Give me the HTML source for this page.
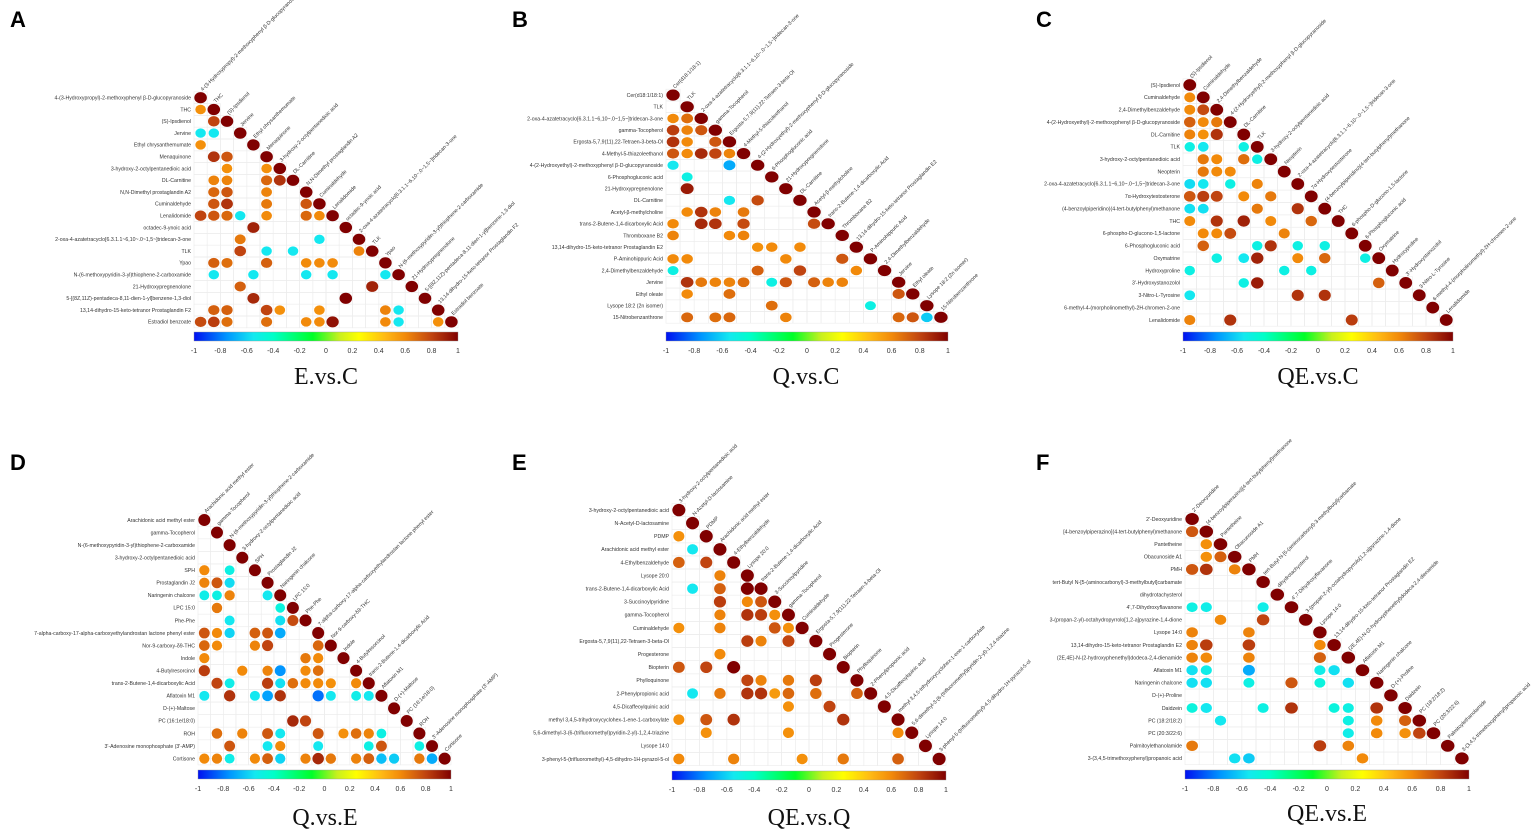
<!DOCTYPE html>
<html><head><meta charset="utf-8">
<style>
html,body{margin:0;padding:0;background:#fff;}
svg{display:block;font-family:"Liberation Sans",sans-serif;}
</style></head>
<body>
<svg id="fig" width="1535" height="831" viewBox="0 0 1535 831" xmlns="http://www.w3.org/2000/svg"></svg>
<script>
// ---------- DATA ----------
const titles = ["E.vs.C","Q.vs.C","QE.vs.C","Q.vs.E","QE.vs.Q","QE.vs.E"];
const panelLetters = ["A","B","C","D","E","F"];
const tickLabels = ["-1","-0.8","-0.6","-0.4","-0.2","0","0.2","0.4","0.6","0.8","1"];

const labelsA = ["4-(3-Hydroxypropyl)-2-methoxyphenyl β-D-glucopyranoside","THC","(S)-Ipsdienol","Jervine","Ethyl chrysanthemumate","Menaquinone","3-hydroxy-2-octylpentanedioic acid","DL-Carnitine","N,N-Dimethyl prostaglandin A2","Cuminaldehyde","Lenalidomide","octadec-9-ynoic acid","2-oxa-4-azatetracyclo[6.3.1.1~6,10~.0~1,5~]tridecan-3-one","TLK","Ypao","N-(6-methoxypyridin-3-yl)thiophene-2-carboxamide","21-Hydroxypregnenolone","5-[(8Z,11Z)-pentadeca-8,11-dien-1-yl]benzene-1,3-diol","13,14-dihydro-15-keto-tetranor Prostaglandin F2","Estradiol benzoate"];
const valuesA = [
[1],
[.58,1],
[0,.8,1],
[-.55,-.55,0,1],
[.58,0,0,0,1],
[0,.85,.75,0,0,1],
[0,0,.58,0,0,.58,1],
[0,.62,.62,0,0,.7,.85,1],
[0,.7,.75,0,0,.62,0,0,1],
[0,.75,.85,0,0,.65,0,0,.75,1],
[.8,.75,.7,-.55,0,.6,0,0,.7,.6,1],
[0,0,0,0,.9,0,0,0,0,0,0,1],
[0,0,0,.65,0,0,0,0,0,-.55,0,0,1],
[0,0,0,.8,0,-.55,0,-.55,0,0,0,0,.62,1],
[0,.72,.68,0,0,.72,0,0,.6,.6,.6,0,0,0,1],
[0,-.55,0,0,-.55,0,0,0,-.55,0,-.55,0,0,0,-.55,1],
[0,0,0,.72,0,0,0,0,0,0,0,0,0,.9,0,0,1],
[0,0,0,0,.88,0,0,0,0,0,0,1,0,0,0,0,0,1],
[0,.72,.72,0,0,.8,.58,0,0,.58,0,0,0,0,.62,-.55,0,0,1],
[.78,.82,.68,0,0,.68,0,0,.6,.6,.95,0,0,0,.6,-.55,0,0,.58,1]
];

const labelsB = ["Cer(d18:1/18:1)","TLK","2-oxa-4-azatetracyclo[6.3.1.1~6,10~.0~1,5~]tridecan-3-one","gamma-Tocopherol","Ergosta-5,7,9(11),22-Tetraen-3-beta-Ol","4-Methyl-5-thiazoleethanol","4-(2-Hydroxyethyl)-2-methoxyphenyl β-D-glucopyranoside","6-Phosphogluconic acid","21-Hydroxypregnenolone","DL-Carnitine","Acetyl-β-methylcholine","trans-2-Butene-1,4-dicarboxylic Acid","Thromboxane B2","13,14-dihydro-15-keto-tetranor Prostaglandin E2","P-Aminohippuric Acid","2,4-Dimethylbenzaldehyde","Jervine","Ethyl oleate","Lysope 18:2 (2n isomer)","15-Nitrobenzanthrone"];
const valuesB = [
[1],
[0,1],
[.6,.68,1],
[.82,.62,.75,1],
[.85,.6,0,.75,1],
[.75,.6,.88,.8,.62,1],
[-.55,0,0,0,-.7,0,1],
[0,-.5,0,0,0,0,0,1],
[0,.92,0,0,0,0,0,0,1],
[0,0,0,0,-.55,0,.78,0,0,1],
[0,.6,.85,.62,0,.65,0,0,0,0,1],
[.6,0,.88,.85,0,.78,0,0,0,0,.78,1],
[.62,0,0,0,.6,.62,0,0,0,0,0,0,1],
[0,0,0,0,0,0,.58,.6,0,.6,0,0,0,1],
[.6,.6,0,0,0,0,0,0,.6,0,0,0,.75,0,1],
[-.5,0,0,0,0,0,.72,0,0,.8,0,0,0,.6,0,1],
[0,.85,.65,.62,.62,.68,0,-.5,.75,0,.72,.62,.62,0,0,0,1],
[0,.6,0,0,.68,0,0,0,0,0,0,0,0,0,0,0,.75,1],
[0,0,0,0,0,0,0,.68,0,0,0,0,0,0,-.5,0,0,0,1],
[0,.7,0,.68,.7,0,0,0,.62,0,0,0,0,0,0,0,.7,.75,-.62,1]
];

const labelsC = ["(S)-Ipsdienol","Cuminaldehyde","2,4-Dimethylbenzaldehyde","4-(2-Hydroxyethyl)-2-methoxyphenyl β-D-glucopyranoside","DL-Carnitine","TLK","3-hydroxy-2-octylpentanedioic acid","Neopterin","2-oxa-4-azatetracyclo[6.3.1.1~6,10~.0~1,5~]tridecan-3-one","7α-Hydroxytestosterone","(4-benzoylpiperidino)(4-tert-butylphenyl)methanone","THC","6-phospho-D-glucono-1,5-lactone","6-Phosphogluconic acid","Oxymatrine","Hydroxyproline","3'-Hydroxystanozolol","3-Nitro-L-Tyrosine","6-methyl-4-(morpholinomethyl)-2H-chromen-2-one","Lenalidomide"];
const valuesC = [
[1],
[.6,1],
[.6,.78,1],
[.72,.6,.65,1],
[.62,.58,.85,0,1],
[-.5,-.55,0,0,-.5,1],
[0,.65,.6,0,.68,-.5,1],
[0,.65,.6,.6,0,0,0,1],
[-.58,-.55,0,-.5,0,.62,0,0,1],
[.75,.82,.8,0,.6,0,.65,0,0,1],
[-.57,-.57,0,0,0,.65,0,0,.85,0,1],
[.6,0,.85,0,.9,0,.6,0,0,.7,0,1],
[0,.6,.6,.78,0,0,0,.62,0,0,0,0,1],
[0,.72,0,0,0,-.5,.85,0,-.5,0,-.5,0,0,1],
[0,0,-.5,0,-.55,.9,0,0,.6,0,.7,0,0,-.5,1],
[-.5,0,0,0,0,0,0,-.5,0,-.5,0,0,0,0,0,1],
[0,0,0,0,-.5,.92,0,0,0,0,0,0,0,0,.72,0,1],
[-.55,0,0,0,0,0,0,0,.85,0,.85,0,0,0,0,0,0,1],
[0,0,0,0,0,0,0,0,0,0,0,0,0,0,0,0,0,0,1],
[.62,0,0,.85,0,0,0,0,0,0,0,0,.82,0,0,0,0,0,0,1]
];

const labelsD = ["Arachidonic acid methyl ester","gamma-Tocopherol","N-(6-methoxypyridin-3-yl)thiophene-2-carboxamide","3-hydroxy-2-octylpentanedioic acid","SPH","Prostaglandin J2","Naringenin chalcone","LPC 15:0","Phe-Phe","7-alpha-carboxy-17-alpha-carboxyethylandrostan lactone phenyl ester","Nor-9-carboxy-δ9-THC","Indole","4-Butylresorcinol","trans-2-Butene-1,4-dicarboxylic Acid","Aflatoxin M1","D-(+)-Maltose","PC (16:1e/18:0)","ROH","3'-Adenosine monophosphate (3'-AMP)","Cortisone"];
const valuesD = [
[1],
[0,1],
[0,0,1],
[0,0,0,1],
[.6,0,-.5,0,1],
[.62,.75,-.58,0,0,1],
[-.52,-.5,.62,0,0,-.55,1],
[0,.65,0,0,0,0,-.48,1],
[0,0,-.55,0,0,0,-.57,.78,1],
[.75,.6,-.6,0,.72,.75,-.7,0,0,1],
[.7,.6,0,0,.62,.8,0,0,0,.7,1],
[.6,0,0,0,0,0,0,0,.65,.6,0,1],
[.82,0,0,.6,0,.62,-.75,0,.6,.68,0,0,1],
[0,.8,-.52,0,0,.82,-.57,.68,.6,.6,.58,0,.6,1],
[-.55,0,.85,0,-.55,-.72,.85,0,0,-.82,-.55,0,-.52,-.55,1],
[0,0,0,0,0,0,0,0,0,0,0,0,0,0,0,1],
[0,0,0,0,0,0,0,.88,.8,0,0,0,0,0,0,0,1],
[0,.68,0,.62,0,.75,-.55,0,0,.75,0,.58,.68,.62,-.5,0,0,1],
[0,0,.75,0,0,-.55,.6,0,0,-.55,0,0,0,-.5,.75,0,0,-.5,1],
[.6,.62,-.52,0,.6,.72,-.6,0,.62,.88,.65,0,.62,.72,-.65,-.62,0,.65,-.7,1]
];

const labelsE = ["3-hydroxy-2-octylpentanedioic acid","N-Acetyl-D-lactosamine","PDMP","Arachidonic acid methyl ester","4-Ethylbenzaldehyde","Lysope 20:0","trans-2-Butene-1,4-dicarboxylic Acid","3-Succinoylpyridine","gamma-Tocopherol","Cuminaldehyde","Ergosta-5,7,9(11),22-Tetraen-3-beta-Ol","Progesterone","Biopterin","Phylloquinone","2-Phenylpropionic acid","4,5-Dicaffeoylquinic acid","methyl 3,4,5-trihydroxycyclohex-1-ene-1-carboxylate","5,6-dimethyl-3-(6-(trifluoromethyl)pyridin-2-yl)-1,2,4-triazine","Lysope 14:0","3-phenyl-5-(trifluoromethyl)-4,5-dihydro-1H-pyrazol-5-ol"];
const valuesE = [
[1],
[0,1],
[.58,0,1],
[0,-.55,0,1],
[.72,0,.8,0,1],
[0,0,0,.62,0,1],
[0,-.55,0,.72,0,1,1],
[0,0,0,.82,0,.6,.75,1],
[0,0,0,.62,0,.85,.82,.58,1],
[.58,0,0,.62,0,0,0,.75,.58,1],
[0,0,0,0,0,.82,.62,0,.8,0,1],
[0,0,0,.6,0,0,0,0,0,0,0,1],
[.75,0,.8,0,1,0,0,0,0,0,0,0,1],
[0,0,0,0,0,.8,.62,0,.65,0,.82,0,0,1],
[0,-.55,0,.65,0,.85,.85,.55,.7,0,.68,0,0,.72,1],
[0,0,0,0,0,0,0,0,.58,0,0,.8,0,0,0,1],
[.58,0,.75,0,.85,0,0,0,0,0,0,0,.85,0,0,0,1],
[0,0,.58,0,0,0,0,0,.58,0,0,0,0,0,0,0,.6,1],
[0,0,0,0,0,0,0,0,0,0,0,0,0,0,0,0,0,0,1],
[.6,0,0,0,.62,0,0,0,0,.58,0,0,.65,0,0,0,.72,0,0,1]
];

const labelsF = ["2'-Deoxyuridine","[4-benzoylpiperazino](4-tert-butylphenyl)methanone","Pantetheine","Obacunoside A1","PMH","tert-Butyl N-[5-(aminocarbonyl)-3-methylbutyl]carbamate","dihydrotachysterol","4',7-Dihydroxyflavanone","3-(propan-2-yl)-octahydropyrrolo[1,2-a]pyrazine-1,4-dione","Lysope 14:0","13,14-dihydro-15-keto-tetranor Prostaglandin E2","(2E,4E)-N-(2-hydroxyphenethyl)dodeca-2,4-dienamide","Aflatoxin M1","Naringenin chalcone","D-(+)-Proline","Daidzein","PC (18:2/18:2)","PC (20:3/22:6)","Palmitoylethanolamide","3-(3,4,5-trimethoxyphenyl)propanoic acid"];
const valuesF = [
[1],
[.75,1],
[0,.58,1],
[0,.58,.72,1],
[.75,.85,0,.62,1],
[0,0,0,0,0,1],
[0,0,0,0,0,0,1],
[-.5,-.52,0,0,0,-.52,0,1],
[0,0,.6,0,0,.8,0,0,1],
[.62,0,0,0,.62,0,0,0,0,1],
[.62,.82,0,0,.82,0,0,0,0,.6,1],
[.62,.6,0,0,.62,0,0,0,0,.72,0,1],
[-.57,-.52,0,0,-.7,0,0,0,0,-.52,-.57,0,1],
[-.57,-.57,0,0,-.5,0,0,.75,0,-.48,0,-.57,0,1],
[0,0,0,0,0,0,0,0,0,0,0,0,0,0,1],
[-.48,-.55,0,0,0,-.5,0,.85,0,0,-.48,-.5,0,.85,0,1],
[0,0,-.55,0,0,0,0,0,0,0,0,-.5,0,.6,0,.72,1],
[0,0,0,0,0,0,0,0,0,0,0,-.52,0,.6,0,.58,.8,1],
[.65,0,0,0,0,0,0,0,0,.82,0,.62,0,0,0,0,0,0,1],
[0,0,0,-.57,-.62,0,0,0,0,0,0,0,.6,0,0,0,0,0,0,1]
];

// ---------- LAYOUT (not data) ----------
const layouts = [
 {x0:194,y0:91.8,cw:13.2,ch:11.8,cbY:332,tickY:353,titleX:326,titleY:384,lx:10,ly:27},
 {x0:666,y0:89.2,cw:14.1,ch:11.7,cbY:332,tickY:353,titleX:806,titleY:384,lx:512,ly:27},
 {x0:1183,y0:78.8,cw:13.5,ch:12.37,cbY:332,tickY:353,titleX:1318,titleY:384,lx:1036,ly:27},
 {x0:198,y0:513.7,cw:12.65,ch:12.56,cbY:770,tickY:791,titleX:325,titleY:825,lx:10,ly:470},
 {x0:672,y0:503.5,cw:13.7,ch:13.1,cbY:771,tickY:792,titleX:809,titleY:825,lx:512,ly:470},
 {x0:1185,y0:512.7,cw:14.2,ch:12.6,cbY:770,tickY:791,titleX:1327,titleY:821,lx:1036,ly:470}
];
const allLabels = [labelsA,labelsB,labelsC,labelsD,labelsE,labelsF];
const allValues = [valuesA,valuesB,valuesC,valuesD,valuesE,valuesF];

const NS = "http://www.w3.org/2000/svg";
const svg = document.getElementById("fig");
function mk(tag, attrs, parent){
  const e = document.createElementNS(NS, tag);
  for (const k in attrs) e.setAttribute(k, attrs[k]);
  (parent||svg).appendChild(e);
  return e;
}
const stops = [[-1,[0,16,240]],[-0.75,[0,150,255]],[-0.55,[20,232,240]],[-0.4,[0,255,200]],[-0.1,[0,255,40]],[0.1,[200,240,30]],[0.25,[255,255,0]],[0.45,[255,185,20]],[0.6,[242,138,10]],[0.8,[192,68,16]],[1,[128,0,0]]];
function colorOf(v){
  for (let i=0;i<stops.length-1;i++){
    const a=stops[i], b=stops[i+1];
    if (v<=b[0]){
      const t=(v-a[0])/(b[0]-a[0]);
      const c=a[1].map((x,j)=>Math.round(x+(b[1][j]-x)*t));
      return "rgb("+c.join(",")+")";
    }
  }
  return "rgb(128,0,0)";
}
const defs = mk("defs",{});
const grad = mk("linearGradient",{id:"cbar",x1:"0",x2:"1",y1:"0",y2:"0"},defs);
stops.forEach(s=>{ mk("stop",{offset:((s[0]+1)/2*100)+"%","stop-color":colorOf(s[0])},grad); });

layouts.forEach((L,p)=>{
  const labels = allLabels[p], vals = allValues[p], n = labels.length;
  const g = mk("g",{});
  
  
  const xAt = c => L.x0 + (c+0.5)*L.cw;
  const yAt = r => L.y0 + (r+0.5)*L.ch;
  const W = n*L.cw;

  const letter = mk("text",{x:L.lx,y:L.ly,"font-size":"22","font-weight":"bold",fill:"#000"},g);
  letter.textContent = panelLetters[p];
  
  

  for (let r=0;r<n;r++) for (let c=0;c<=r;c++){
    const cell = mk("rect",{x:L.x0+c*L.cw,y:L.y0+r*L.ch,width:L.cw,height:L.ch,fill:"none",stroke:"#ececec","stroke-width":"0.6"},g);
    
    
  }
  labels.forEach((t,r)=>{
    const lt = mk("text",{x:L.x0-3,y:yAt(r)+1.8,"font-size":"5.2","text-anchor":"end",fill:"#333"},g);
    lt.textContent = t;
    
    
    const dx = xAt(r)+2, dy = yAt(r)-L.ch*0.55;
    const dt = mk("text",{x:dx,y:dy,"font-size":"5.2",fill:"#333",transform:"rotate(-45 "+dx+" "+dy+")"},g);
    dt.textContent = t;
    
    
  });
  vals.forEach((row,r)=>{
    row.forEach((v,c)=>{
      if (!v) return;
      const s = 0.6 + 0.35*Math.abs(v);
      const dot = mk("ellipse",{cx:xAt(c),cy:yAt(r),rx:L.cw/2*s,ry:L.ch/2*s,fill:colorOf(v)},g);
      
      
    });
  });
  const cb = mk("rect",{x:L.x0,y:L.cbY,width:W,height:9,fill:"url(#cbar)",stroke:"#999","stroke-width":"0.4"},g);
  
  
  tickLabels.forEach((t,i)=>{
    const tx = L.x0 + W*i/(tickLabels.length-1);
    const tt = mk("text",{x:tx,y:L.tickY,"font-size":"7","text-anchor":"middle",fill:"#333"},g);
    tt.textContent = t;
    
    
  });
  const ti = mk("text",{x:L.titleX,y:L.titleY,"font-size":"24","text-anchor":"middle",fill:"#111","font-family":"Liberation Serif, serif"},g);
  ti.textContent = titles[p];
  
  
});
</script>
</body></html>
